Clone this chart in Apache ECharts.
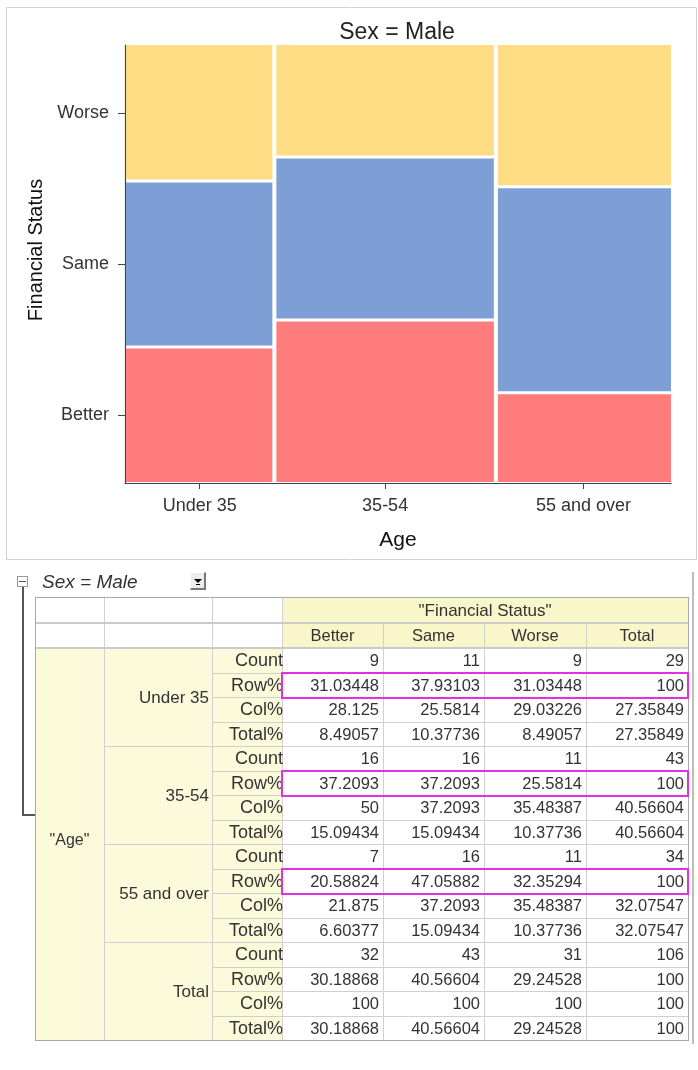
<!DOCTYPE html>
<html>
<head>
<meta charset="utf-8">
<script src="https://cdn.jsdelivr.net/npm/echarts@6/dist/echarts.min.js"></script>
<style>
  html, body { margin: 0; padding: 0; background: #fff; }
  #wrap { position: relative; width: 698px; height: 1070px; overflow: hidden; background: #fff; }
  #chart { position: absolute; left: 0; top: 0; width: 698px; height: 1070px; }
  #table { position: absolute; left: 0; top: 0; width: 698px; height: 1070px; font-family: "Liberation Sans", Arial, sans-serif; color: #333; }
  .bx { position: absolute; box-sizing: border-box; }
  .tx { position: absolute; box-sizing: border-box; white-space: nowrap; display: flex; align-items: center; line-height: 1; }
</style>
</head>
<body>
<div id="wrap">
  <div id="chart"></div>
  <div id="table"></div>
</div>
<script>
// ---------------- data ----------------
const chartTitle = 'Sex = Male';
const ageGroups = ['Under 35', '35-54', '55 and over'];
const statusLevels = ['Better', 'Same', 'Worse'];
const countBetter = [9, 16, 7];
const countSame = [11, 16, 16];
const countWorse = [9, 11, 11];
const statusColors = ['#FF7C7C', '#7E9ED6', '#FEDC83'];

const statLabels = ['Count', 'Row%', 'Col%', 'Total%'];
const rowGroupLabels = ['Under 35', '35-54', '55 and over', 'Total'];
const colHeaders = ['Better', 'Same', 'Worse', 'Total'];
const countRows = [['9', '11', '9', '29'], ['16', '16', '11', '43'], ['7', '16', '11', '34'], ['32', '43', '31', '106']];
const rowPctRows = [['31.03448', '37.93103', '31.03448', '100'], ['37.2093', '37.2093', '25.5814', '100'], ['20.58824', '47.05882', '32.35294', '100'], ['30.18868', '40.56604', '29.24528', '100']];
const colPctRows = [['28.125', '25.5814', '29.03226', '27.35849'], ['50', '37.2093', '35.48387', '40.56604'], ['21.875', '37.2093', '35.48387', '32.07547'], ['100', '100', '100', '100']];
const totalPctRows = [['8.49057', '10.37736', '8.49057', '27.35849'], ['15.09434', '15.09434', '10.37736', '40.56604'], ['6.60377', '15.09434', '10.37736', '32.07547'], ['30.18868', '40.56604', '29.24528', '100']];

// ---------------- mosaic chart ----------------
const FONT = '"Liberation Sans", Arial, sans-serif';
const statusCounts = [countBetter, countSame, countWorse];
const ageTotals = ageGroups.map((_, i) => statusCounts.reduce((s, arr) => s + arr[i], 0));
const grandTotal = ageTotals.reduce((a, b) => a + b, 0);

const mosaicData = [];
const xCenters = [];
let cum = 0;
ageGroups.forEach((g, i) => {
  const x0 = cum, x1 = cum + ageTotals[i];
  xCenters.push((x0 + x1) / 2);
  let yc = 0;
  statusLevels.forEach((s, j) => {
    const pct = statusCounts[j][i] / ageTotals[i] * 100;
    mosaicData.push({ value: [x0, x1, yc, yc + pct, j, i], itemStyle: { color: statusColors[j] } });
    yc += pct;
  });
  cum = x1;
});
// y label positions: segment centres of the first age column
const yCenters = [];
{
  let yc = 0;
  statusLevels.forEach((s, j) => {
    const pct = statusCounts[j][0] / ageTotals[0] * 100;
    yCenters.push(yc + pct / 2);
    yc += pct;
  });
}
function nearestLabel(v, centers, labels) {
  let best = 0, bd = Infinity;
  centers.forEach((c, k) => { const d = Math.abs(c - v); if (d < bd) { bd = d; best = k; } });
  return bd < 1e-6 ? labels[best] : '';
}

const chart = echarts.init(document.getElementById('chart'), null, { renderer: 'canvas' });
chart.setOption({
  animation: false,
  backgroundColor: 'transparent',
  textStyle: { fontFamily: FONT },
  title: {
    text: chartTitle, left: 392, top: 16, textAlign: 'center',
    textStyle: { fontSize: 23, fontWeight: 'normal', color: '#222', fontFamily: FONT }
  },
  graphic: [{
    type: 'rect', silent: true, z: -10,
    shape: { x: 6.5, y: 7.5, width: 690, height: 552 },
    style: { fill: '#fff', stroke: '#d2d2d2', lineWidth: 1 }
  }],
  grid: { left: 125, right: 27, top: 45, bottom: 587, containLabel: false },
  xAxis: {
    type: 'value', min: 0, max: grandTotal,
    axisLine: { show: true, lineStyle: { color: '#444', width: 1.2 } },
    axisTick: { show: true, customValues: xCenters, length: 6, lineStyle: { color: '#444' } },
    axisLabel: { customValues: xCenters, formatter: v => nearestLabel(v, xCenters, ageGroups), fontSize: 18, color: '#333', margin: 14, fontFamily: FONT },
    splitLine: { show: false },
    name: 'Age', nameLocation: 'middle', nameGap: 47,
    nameTextStyle: { fontSize: 21, color: '#111', fontFamily: FONT }
  },
  yAxis: {
    type: 'value', min: 0, max: 100,
    axisLine: { show: true, lineStyle: { color: '#444', width: 1.2 } },
    axisTick: { show: true, customValues: yCenters, length: 7, lineStyle: { color: '#444' } },
    axisLabel: { customValues: yCenters, formatter: v => nearestLabel(v, yCenters, statusLevels), fontSize: 18, color: '#333', margin: 16, fontFamily: FONT },
    splitLine: { show: false },
    name: 'Financial Status', nameLocation: 'middle', nameGap: 78,
    nameTextStyle: { fontSize: 20, color: '#111', fontFamily: FONT, padding: [0, 0, 0, 28] }
  },
  series: [{
    type: 'custom',
    data: mosaicData,
    encode: { x: [0, 1], y: [2, 3] },
    renderItem: function (params, api) {
      const x0 = api.value(0), x1 = api.value(1), y0 = api.value(2), y1 = api.value(3);
      const si = api.value(4), ai = api.value(5);
      const p0 = api.coord([x0, y0]);
      const p1 = api.coord([x1, y1]);
      const left = p0[0] + (ai > 0 ? 2 : 1);
      const right = p1[0] - (ai < ageGroups.length - 1 ? 2 : 0);
      const bottom = p0[1] - (si > 0 ? 1.5 : 1);
      const top = p1[1] + (si < statusLevels.length - 1 ? 1.5 : 0);
      return {
        type: 'rect',
        shape: { x: left, y: top, width: right - left, height: bottom - top },
        style: { fill: statusColors[si] }
      };
    }
  }]
});

// ---------------- cross table ----------------
const T = document.getElementById('table');
function box(x, y, w, h, css) {
  const d = document.createElement('div');
  d.className = 'bx';
  d.style.left = x + 'px'; d.style.top = y + 'px';
  d.style.width = w + 'px'; d.style.height = h + 'px';
  Object.assign(d.style, css || {});
  T.appendChild(d);
  return d;
}
function text(str, x, y, w, h, align, css) {
  const d = document.createElement('div');
  d.className = 'tx';
  d.textContent = str;
  d.style.left = x + 'px'; d.style.top = y + 'px';
  d.style.width = w + 'px'; d.style.height = h + 'px';
  d.style.justifyContent = align === 'right' ? 'flex-end' : (align === 'left' ? 'flex-start' : 'center');
  Object.assign(d.style, css || {});
  T.appendChild(d);
  return d;
}

const colX = [35, 104, 212, 282, 383, 484, 586, 688];
const hdrTop = 597, hdrMid = 623, dataTop = 648, rowH = 24.5;
const nRows = rowGroupLabels.length * statLabels.length;
const tableBottom = dataTop + rowH * nRows;
const rowHeaderBg = '#FBFADB', colHeaderBg = '#F9F6C9', gridCol = '#D0D0D0';

// backgrounds
box(colX[0], hdrTop, colX[3] - colX[0], dataTop - hdrTop, { background: '#fff' });
box(colX[3], hdrTop, colX[7] - colX[3], dataTop - hdrTop, { background: colHeaderBg });
box(colX[0], dataTop, colX[3] - colX[0], tableBottom - dataTop, { background: rowHeaderBg });
box(colX[3], dataTop, colX[7] - colX[3], tableBottom - dataTop, { background: '#fff' });

// grid lines
for (let c = 1; c <= 6; c++) {
  const yStart = c <= 3 ? hdrTop : hdrMid;
  box(colX[c], yStart, 1, tableBottom - yStart, { background: gridCol });
}
box(colX[0], hdrMid - 1, colX[7] - colX[0], 2, { background: '#CACACA' });
box(colX[0], dataTop - 1, colX[7] - colX[0], 2, { background: '#CACACA' });
for (let k = 1; k < nRows; k++) {
  const y = Math.round(dataTop + rowH * k);
  const x0 = (k % statLabels.length === 0) ? colX[1] : colX[2];
  box(x0, y, colX[7] - x0, 1, { background: gridCol });
}
// outer border
box(colX[0], hdrTop, colX[7] - colX[0] + 1, tableBottom - hdrTop + 1, { border: '1px solid #A8A8A8' });
// window frame on the right
box(692, 572, 2, tableBottom - 572 + 4, { background: '#BDBDBD' });

// header texts
text('"Financial Status"', colX[3], hdrTop, colX[7] - colX[3], hdrMid - hdrTop, 'center', { fontSize: '17px' });
colHeaders.forEach((h, c) => {
  text(h, colX[3 + c], hdrMid, colX[4 + c] - colX[3 + c], dataTop - hdrMid, 'center', { fontSize: '16.5px' });
});

// row header texts
text('"Age"', colX[0], dataTop, colX[1] - colX[0], tableBottom - dataTop - 8, 'center', { fontSize: '16px' });
const statBlocks = [countRows, rowPctRows, colPctRows, totalPctRows];
rowGroupLabels.forEach((g, gi) => {
  const gy = dataTop + gi * statLabels.length * rowH;
  text(g, colX[1], gy, colX[2] - colX[1] - 3, statLabels.length * rowH, 'right', { fontSize: '17px' });
  statLabels.forEach((s, si) => {
    const y = gy + si * rowH;
    text(s, colX[2], y, colX[3] - colX[2] + 1, rowH, 'right', { fontSize: '18px' });
    statBlocks[si][gi].forEach((v, c) => {
      text(v, colX[3 + c], y, colX[4 + c] - colX[3 + c] - 4, rowH, 'right', { fontSize: '16.5px' });
    });
  });
});

// magenta highlight boxes on Row% of each age group
ageGroups.forEach((g, gi) => {
  const y = dataTop + (gi * statLabels.length + 1) * rowH;
  box(colX[3] - 1, Math.round(y) - 1, colX[7] - colX[3] + 2, rowH + 2, { border: '2px solid #E030E0' });
});

// toolbar above the table
box(17, 576, 11, 11, { border: '1px solid #999', background: '#fff' });
box(19, 581, 7, 1, { background: '#555' });
text('Sex = Male', 42, 571, 140, 20, 'left', { fontSize: '19px', fontStyle: 'italic', color: '#333' });
box(190, 572, 16, 18, { background: '#EDEDED', borderTop: '1px solid #fff', borderLeft: '1px solid #fff', borderRight: '2px solid #777', borderBottom: '2px solid #777' });
box(194, 579, 0, 0, { borderLeft: '4px solid transparent', borderRight: '4px solid transparent', borderTop: '4px solid #000' });
box(196, 584, 4, 1, { background: '#000' });
// bracket line
box(22, 587, 2, 815 - 587, { background: '#555' });
box(22, 814, colX[0] - 22, 2, { background: '#555' });
</script>
</body>
</html>
